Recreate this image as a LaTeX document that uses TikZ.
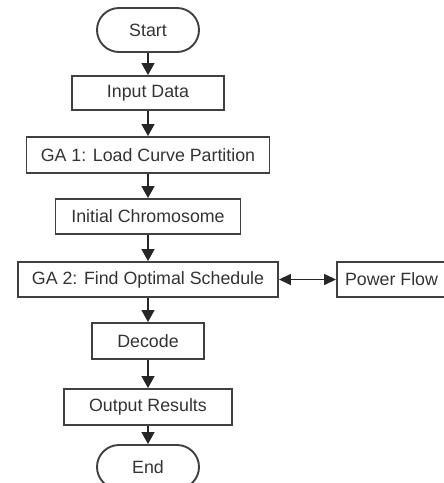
\documentclass[tikz,border=0pt]{standalone}
\usepackage{fontspec}
\setmainfont{Liberation Sans}
\usetikzlibrary{arrows.meta}
\begin{document}
\begin{tikzpicture}[x=1pt,y=-1pt,
  box/.style={draw=black!75,line width=1.9pt,rectangle,minimum height=35pt,
    inner sep=0pt,text=black!80,font=\fontsize{17.8}{20}\selectfont},
  term/.style={box,rounded corners=22pt,minimum height=44pt,minimum width=102pt},
  flow/.style={draw=black!85,line width=1.5pt,-{Triangle[width=13pt,length=12pt]}},
  both/.style={draw=black!85,line width=1.5pt,{Triangle[width=11pt,length=12pt]}-{Triangle[width=11pt,length=12pt]}},
]
\clip (0,0) rectangle (444,483);
% main chain of steps
\node[term] (start) at (148,30) {Start};
\node[box,minimum width=152pt,minimum height=34pt] (input) at (148,93) {Input Data};
\node[box,minimum width=243pt,minimum height=36pt] (ga1) at (148,155) {GA 1: Load Curve Partition};
\node[box,minimum width=185pt] (init) at (148,216.5) {Initial Chromosome};
\node[box,minimum width=260pt] (ga2) at (148,279.5) {GA 2: Find Optimal Schedule};
\node[box,minimum width=109pt] (pf) at (391.5,279.5) {Power Flow};
\node[box,minimum width=112pt,minimum height=36pt] (decode) at (148,341) {Decode};
\node[box,minimum width=168pt,minimum height=36pt] (output) at (148,407) {Output Results};
\node[term] (end) at (148,467) {End};
% connectors
\draw[flow] (start) -- (input);
\draw[flow] (input) -- (ga1);
\draw[flow] (ga1) -- (init);
\draw[flow] (init) -- (ga2);
\draw[flow] (ga2) -- (decode);
\draw[flow] (decode) -- (output);
\draw[flow] (output) -- (end);
\draw[both] (ga2) -- (pf);
\end{tikzpicture}
\end{document}
